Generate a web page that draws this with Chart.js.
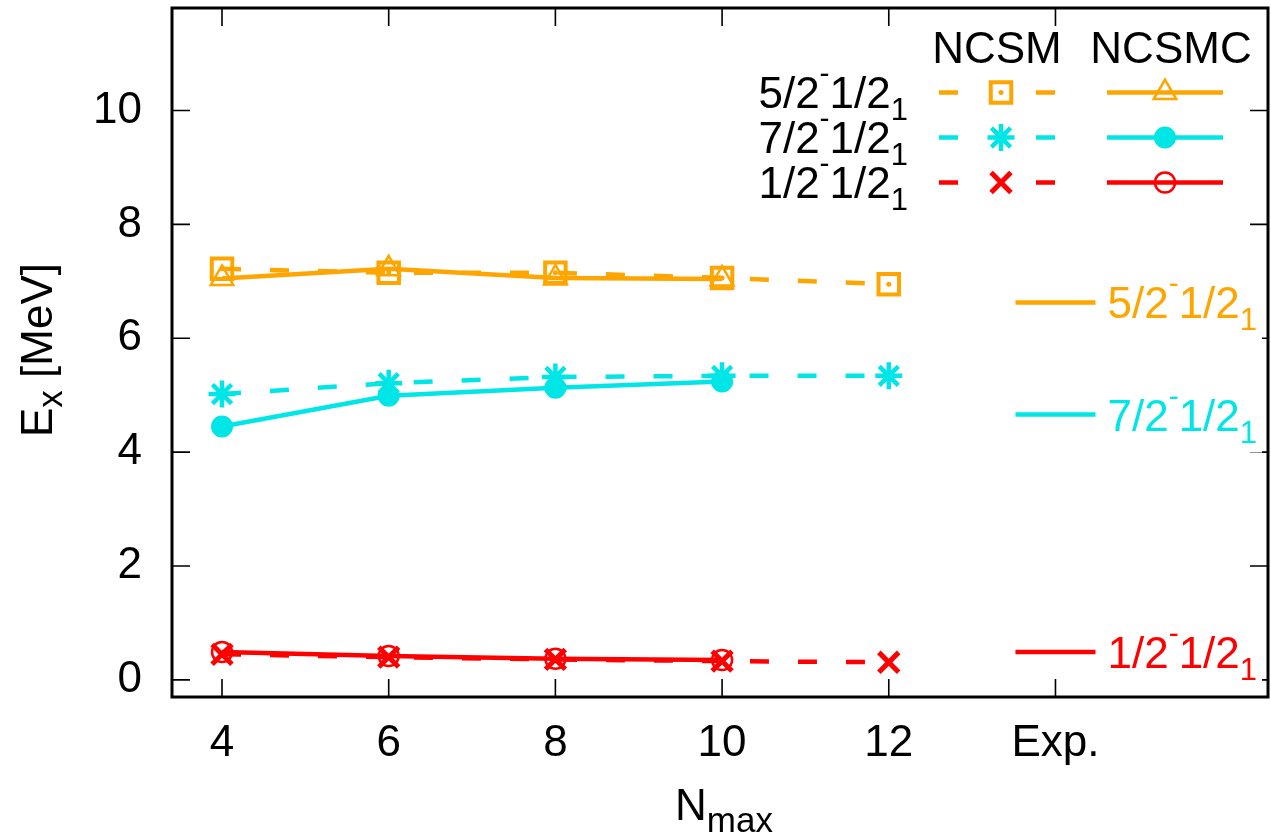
<!DOCTYPE html>
<html>
<head>
<meta charset="utf-8">
<script src="https://cdn.jsdelivr.net/npm/chart.js@4.4.1/dist/chart.umd.min.js"></script>
<style>
  html, body { margin: 0; padding: 0; background: #fff; }
  #wrap { width: 1271px; height: 839px; }
</style>
</head>
<body>
<div id="wrap"><canvas id="chart"></canvas></div>
<script>
'use strict';

// N_max values, 'Exp.' sits at x = 14
var nmax = [4, 6, 8, 10, 12];
var nmaxC = [4, 6, 8, 10];
var xTicks = [4, 6, 8, 10, 12, 14];
var xTickLabels = ['4', '6', '8', '10', '12', 'Exp.'];
var yTicks = [0, 2, 4, 6, 8, 10];

// NCSM (dashed) and NCSMC (solid) excitation energies [MeV]
var ncsm52 = [7.22, 7.15, 7.15, 7.06, 6.95];
var ncsmc52 = [7.05, 7.22, 7.06, 7.04];
var ncsm72 = [5.02, 5.21, 5.32, 5.34, 5.34];
var ncsmc72 = [4.45, 4.99, 5.13, 5.24];
var ncsm12 = [0.45, 0.40, 0.36, 0.33, 0.31];
var ncsmc12 = [0.49, 0.42, 0.37, 0.35];

// experiment levels
var expX = 14;
var expLevels = [6.63, 4.66, 0.49];
var levelNames = ['5/2', '7/2', '1/2'];

var ORANGE = '#ffa500';
var CYAN = '#00e5e5';
var RED = '#ff0000';
var FONT = '"Liberation Sans", Arial, sans-serif';
var levelColors = [ORANGE, CYAN, RED];

function pts(xs, ys) {
  return ys.map(function (v, i) { return {x: xs[i], y: v}; });
}

function richParts(num) {
  return [
    {t: num, f: 44, dy: 0},
    {t: '-', f: 30, dy: -25},
    {t: '1/2', f: 44, dy: 0},
    {t: '1', f: 31, dy: 12}
  ];
}

function drawRich(ctx, parts, x, y, align) {
  var total = 0;
  parts.forEach(function (p) {
    ctx.font = p.f + 'px ' + FONT;
    p.w = ctx.measureText(p.t).width;
    total += p.w;
  });
  var cx = x;
  if (align === 'right') cx = x - total;
  if (align === 'center') cx = x - total / 2;
  var start = cx;
  ctx.textAlign = 'left';
  ctx.textBaseline = 'alphabetic';
  parts.forEach(function (p) {
    ctx.font = p.f + 'px ' + FONT;
    ctx.fillText(p.t, cx, y + p.dy);
    cx += p.w;
  });
  return {left: start, width: total};
}

var markers = {
  ncsm: [
    {pointStyle: 'rect', radius: 14.5, borderWidth: 4, fill: false},
    {pointStyle: 'star', radius: 13.5, borderWidth: 4.5, fill: false},
    {pointStyle: 'crossRot', radius: 14, borderWidth: 5, fill: false}
  ],
  ncsmc: [
    {pointStyle: 'triangle', radius: 13, borderWidth: 2.5, fill: false},
    {pointStyle: 'circle', radius: 10, borderWidth: 2, fill: true},
    {pointStyle: 'circle', radius: 10, borderWidth: 2.5, fill: false}
  ]
};

function lineSet(data, color, m, dashed) {
  return {
    data: data,
    borderColor: color,
    backgroundColor: color,
    borderWidth: 4.5,
    borderDash: dashed ? [19, 29] : [],
    pointStyle: m.pointStyle,
    pointRadius: m.radius,
    pointHoverRadius: m.radius,
    pointBorderWidth: m.borderWidth,
    pointBorderColor: color,
    pointBackgroundColor: m.fill ? color : 'rgba(0,0,0,0)',
    tension: 0
  };
}

var datasets = [
  lineSet(pts(nmaxC, ncsmc52), ORANGE, markers.ncsmc[0], false),
  lineSet(pts(nmax, ncsm52), ORANGE, markers.ncsm[0], true),
  lineSet(pts(nmaxC, ncsmc72), CYAN, markers.ncsmc[1], false),
  lineSet(pts(nmax, ncsm72), CYAN, markers.ncsm[1], true),
  lineSet(pts(nmaxC, ncsmc12), RED, markers.ncsmc[2], false),
  lineSet(pts(nmax, ncsm12), RED, markers.ncsm[2], true)
];
var expHalf = 0.48;
expLevels.forEach(function (v, i) {
  datasets.push({
    data: [{x: expX - expHalf, y: v}, {x: expX + expHalf, y: v}],
    borderColor: levelColors[i],
    borderWidth: 4.5,
    pointRadius: 0,
    pointHoverRadius: 0
  });
});

// square marker dot, frame, inward ticks, labels and legend
var decor = {
  id: 'decor',
  afterDatasetsDraw: function (chart) {
    var ctx = chart.ctx;
    var meta = chart.getDatasetMeta(1);
    ctx.save();
    ctx.fillStyle = ORANGE;
    meta.data.forEach(function (p) {
      ctx.beginPath();
      ctx.arc(p.x, p.y, 2.5, 0, Math.PI * 2);
      ctx.fill();
    });
    ctx.restore();
  },
  afterDraw: function (chart) {
    var ctx = chart.ctx;
    var ca = chart.chartArea;
    var xs = chart.scales.x;
    var ys = chart.scales.y;
    var tl = 18;
    ctx.save();

    // inward ticks on all four sides
    ctx.strokeStyle = '#000';
    ctx.lineWidth = 1.6;
    ctx.beginPath();
    xTicks.forEach(function (v) {
      var px = xs.getPixelForValue(v);
      ctx.moveTo(px, ca.bottom); ctx.lineTo(px, ca.bottom - tl);
      ctx.moveTo(px, ca.top); ctx.lineTo(px, ca.top + tl);
    });
    yTicks.forEach(function (v) {
      var py = ys.getPixelForValue(v);
      ctx.moveTo(ca.left, py); ctx.lineTo(ca.left + tl, py);
      ctx.moveTo(ca.right, py); ctx.lineTo(ca.right - tl, py);
    });
    ctx.stroke();

    // experimental level labels (opaque box)
    expLevels.forEach(function (v, i) {
      var x = xs.getPixelForValue(expX + expHalf) + 12;
      var y = ys.getPixelForValue(v) + 16;
      var parts = richParts(levelNames[i]);
      ctx.fillStyle = '#fff';
      ctx.fillRect(x - 2, y - 38, ca.right - x - 4, 60);
      ctx.fillStyle = levelColors[i];
      drawRich(ctx, parts, x, y, 'left');
    });

    // legend
    ctx.fillStyle = '#000';
    ctx.font = '44px ' + FONT;
    ctx.textAlign = 'center';
    ctx.textBaseline = 'alphabetic';
    ctx.fillText('NCSM', 997, 63);
    ctx.fillText('NCSMC', 1171, 63);
    var rows = [92.5, 137.5, 182.5];
    var H = Chart.helpers;
    rows.forEach(function (ry, i) {
      var col = levelColors[i];
      ctx.fillStyle = '#000';
      drawRich(ctx, richParts(levelNames[i]), 908, ry + 15, 'right');
      ctx.strokeStyle = col;
      ctx.lineWidth = 4.5;
      ctx.setLineDash([]);
      ctx.beginPath();
      ctx.moveTo(939, ry); ctx.lineTo(958, ry);
      ctx.moveTo(1036, ry); ctx.lineTo(1055, ry);
      ctx.moveTo(1107, ry); ctx.lineTo(1223, ry);
      ctx.stroke();
      [[markers.ncsm[i], 1001], [markers.ncsmc[i], 1165]].forEach(function (mm) {
        var m = mm[0];
        ctx.lineWidth = m.borderWidth;
        ctx.strokeStyle = col;
        ctx.fillStyle = m.fill ? col : 'rgba(0,0,0,0)';
        H.drawPoint(ctx, {pointStyle: m.pointStyle, radius: m.radius, borderWidth: m.borderWidth, rotation: 0}, mm[1], ry);
      });
      if (i === 0) {
        ctx.fillStyle = ORANGE;
        ctx.beginPath();
        ctx.arc(1001, ry, 2.5, 0, Math.PI * 2);
        ctx.fill();
      }
    });

    // axis titles
    ctx.fillStyle = '#000';
    drawRich(ctx, [{t: 'N', f: 44, dy: 0}, {t: 'max', f: 35, dy: 12}], 724, 820, 'center');
    ctx.save();
    ctx.translate(52, 350);
    ctx.rotate(-Math.PI / 2);
    drawRich(ctx, [{t: 'E', f: 44, dy: 0}, {t: 'x', f: 35, dy: 10}, {t: ' [MeV]', f: 44, dy: 0}], 0, 0, 'center');
    ctx.restore();

    // frame
    ctx.strokeStyle = '#000';
    ctx.lineWidth = 3;
    ctx.strokeRect(ca.left, ca.top, ca.right - ca.left, ca.bottom - ca.top);
    ctx.restore();
  }
};

var ctx = document.getElementById('chart').getContext('2d');
var chart = new Chart(ctx, {
  type: 'line',
  data: {datasets: datasets},
  options: {
    responsive: true,
    maintainAspectRatio: false,
    animation: false,
    events: [],
    layout: {autoPadding: false, padding: {top: 8, right: 3, left: 0, bottom: 0}},
    plugins: {legend: {display: false}, tooltip: {enabled: false}},
    scales: {
      x: {
        type: 'linear',
        min: 3.4,
        max: 16.55,
        afterBuildTicks: function (scale) {
          scale.ticks = xTicks.map(function (v) { return {value: v}; });
        },
        afterFit: function (scale) {
          scale.height = 142;
          scale.paddingLeft = 0;
          scale.paddingRight = 0;
        },
        grid: {display: false, drawTicks: false, tickLength: 0},
        border: {display: false},
        ticks: {
          color: '#000',
          font: {family: FONT, size: 44},
          padding: 20,
          maxRotation: 0,
          autoSkip: false,
          callback: function (v) {
            var i = xTicks.indexOf(v);
            return i >= 0 ? xTickLabels[i] : '';
          }
        }
      },
      y: {
        type: 'linear',
        min: -0.3,
        max: 11.8,
        afterBuildTicks: function (scale) {
          scale.ticks = yTicks.map(function (v) { return {value: v}; });
        },
        afterFit: function (scale) {
          scale.width = 172;
          scale.paddingTop = 0;
          scale.paddingBottom = 0;
        },
        grid: {display: false, drawTicks: false, tickLength: 0},
        border: {display: false},
        ticks: {
          color: '#000',
          font: {family: FONT, size: 44},
          padding: 30
        }
      }
    }
  },
  plugins: [decor]
});
</script>
</body>
</html>
